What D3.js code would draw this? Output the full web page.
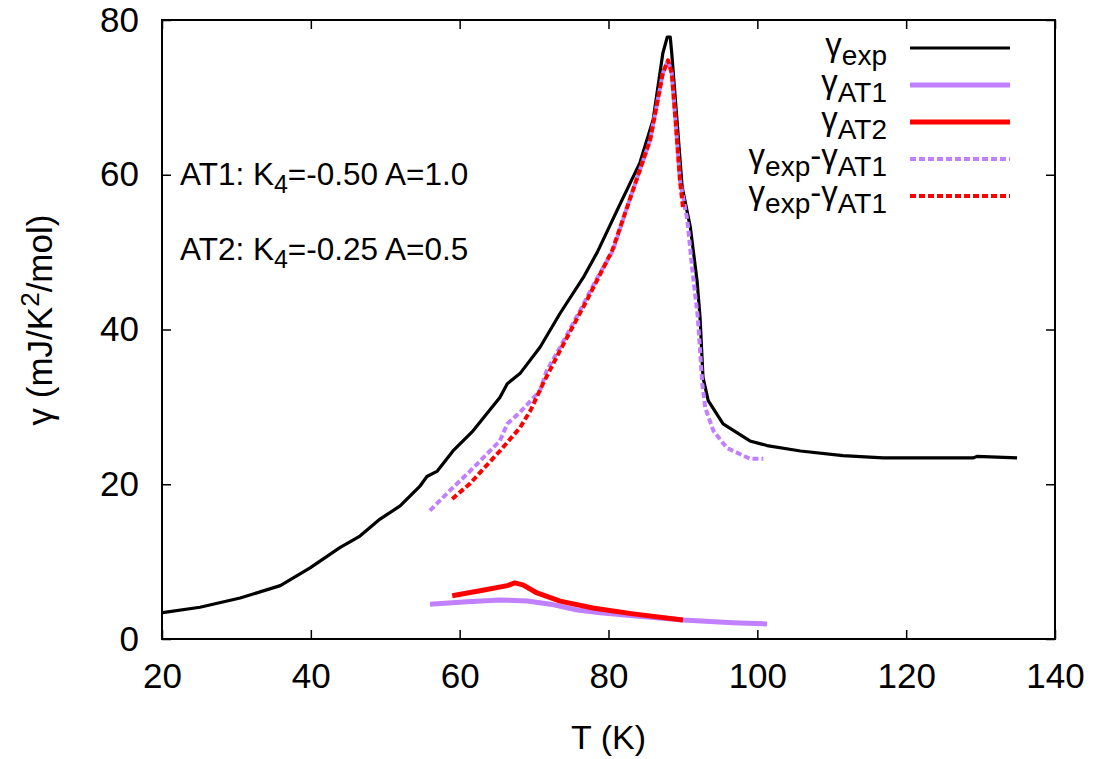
<!DOCTYPE html>
<html>
<head>
<meta charset="utf-8">
<script src="https://cdn.jsdelivr.net/npm/d3@7"></script>
<style>
  body { margin: 0; background: #fff; }
  text { font-family: "Liberation Sans", Arial, sans-serif; fill: #000; }
</style>
</head>
<body>
<svg id="chart" width="1097" height="759"></svg>
<script>
// gamma_exp (measured) : [T, gamma]
const gammaExp = [
  [20.1, 3.4], [25.1, 4.1], [30.5, 5.3], [35.9, 6.9], [39.9, 9.2], [43.9, 11.8],
  [46.6, 13.3], [49.3, 15.5], [52.0, 17.2], [54.7, 19.8], [55.6, 21.0], [57.0, 21.7],
  [59.1, 24.3], [61.8, 26.9], [65.4, 31.2], [66.4, 33.0], [68.1, 34.3], [70.8, 37.7],
  [73.5, 42.1], [76.6, 46.7], [78.5, 50.0], [81.6, 56.3], [84.2, 61.5], [86.0, 67.1],
  [87.3, 75.7], [87.9, 77.8], [88.3, 77.8], [88.5, 75.7], [89.2, 67.1], [89.9, 58.4],
  [91.0, 53.2], [91.9, 46.3], [92.3, 41.6], [92.7, 33.8], [93.4, 30.8], [95.4, 27.8],
  [99.0, 25.6], [101.3, 25.0], [105.8, 24.3], [111.5, 23.7], [116.9, 23.4], [123.6, 23.4],
  [129.0, 23.4], [129.5, 23.6], [134.9, 23.4]
];
// gamma_AT1 model
const gammaAT1 = [
  [56.0, 4.5], [61.0, 4.8], [65.4, 5.05], [69.1, 4.9], [72.2, 4.5], [75.8, 3.75],
  [78.9, 3.4], [83.3, 3.0], [90.0, 2.45], [96.7, 2.1], [101.3, 1.95]
];
// gamma_AT2 model
const gammaAT2 = [
  [59.0, 5.6], [63.1, 6.3], [66.4, 6.9], [67.4, 7.25], [68.5, 7.0], [70.4, 5.95],
  [73.5, 4.9], [77.9, 4.0], [83.3, 3.25], [90.0, 2.45]
];
// gamma_exp - gamma_AT1
const diffAT1 = [
  [56.0, 16.6], [58.7, 19.2], [61.4, 21.7], [65.4, 25.6], [66.4, 27.8], [68.1, 29.3],
  [70.8, 32.1], [71.7, 34.7], [73.5, 37.7], [76.2, 42.5], [78.5, 46.7], [80.6, 50.2],
  [82.5, 55.8], [85.6, 64.5], [87.3, 73.1], [88.0, 74.8], [88.5, 73.1], [89.0, 67.1],
  [89.6, 59.3], [90.6, 54.1], [91.2, 48.3], [92.0, 41.6], [92.6, 33.0], [93.0, 29.9],
  [94.1, 26.9], [95.9, 24.7], [99.0, 23.3], [100.8, 23.3]
];
// gamma_exp - gamma_AT2
const diffAT2 = [
  [59.0, 18.1], [61.4, 20.1], [65.4, 24.3], [68.1, 27.3], [69.5, 29.5], [71.2, 33.0],
  [73.5, 37.3], [77.1, 43.8], [80.5, 50.2], [82.5, 55.8], [85.6, 64.5], [87.3, 73.1],
  [88.0, 74.8], [88.5, 73.1], [89.0, 67.1], [89.6, 59.3], [90.0, 55.8]
];

const xTicks = [20, 40, 60, 80, 100, 120, 140];
const yTicks = [0, 20, 40, 60, 80];

const series = [
  { label: ["γ", "exp"], data: gammaExp, color: "#000000", width: 3.2, dash: null },
  { label: ["γ", "AT1"], data: gammaAT1, color: "#c080ff", width: 5, dash: null },
  { label: ["γ", "AT2"], data: gammaAT2, color: "#ff0000", width: 5, dash: null },
  { label: ["γ", "exp", "-γ", "AT1"], data: diffAT1, color: "#c080ff", width: 4, dash: "6,3" },
  { label: ["γ", "exp", "-γ", "AT1"], data: diffAT2, color: "#ff0000", width: 4, dash: "6,3" }
];

const svg = d3.select("#chart");
const margin = { top: 20, right: 42, bottom: 120, left: 162 };
const W = 1097, H = 759;

const x = d3.scaleLinear().domain([20, 140]).range([margin.left, W - margin.right]);
const y = d3.scaleLinear().domain([0, 80]).range([H - margin.bottom, margin.top]);

const tickLen = 9;

// axes with inward ticks, mirrored on top / right
svg.append("g")
  .attr("transform", `translate(0,${y(0)})`)
  .call(d3.axisBottom(x).tickValues(xTicks).tickSizeInner(-tickLen).tickSizeOuter(0).tickPadding(17))
  .call(g => g.select(".domain").remove())
  .selectAll("text").style("font-size", "35px").attr("dy", "0.9em");

svg.append("g")
  .attr("transform", `translate(0,${y(80)})`)
  .call(d3.axisTop(x).tickValues(xTicks).tickSizeInner(-tickLen).tickSizeOuter(0).tickFormat(""))
  .call(g => g.select(".domain").remove());

svg.append("g")
  .attr("transform", `translate(${x(20)},0)`)
  .call(d3.axisLeft(y).tickValues(yTicks).tickSizeInner(-tickLen).tickSizeOuter(0).tickPadding(23))
  .call(g => g.select(".domain").remove())
  .selectAll("text").style("font-size", "35px");

svg.append("g")
  .attr("transform", `translate(${x(140)},0)`)
  .call(d3.axisRight(y).tickValues(yTicks).tickSizeInner(-tickLen).tickSizeOuter(0).tickFormat(""))
  .call(g => g.select(".domain").remove());

svg.selectAll(".tick line").attr("stroke", "#000").attr("stroke-width", 1.5);

svg.append("rect")
  .attr("x", x(20)).attr("y", y(80))
  .attr("width", x(140) - x(20)).attr("height", y(0) - y(80))
  .attr("fill", "none").attr("stroke", "#000").attr("stroke-width", 2);

// curves
const line = d3.line().x(d => x(d[0])).y(d => y(d[1]));
series.forEach(s => {
  svg.append("path")
    .datum(s.data)
    .attr("d", line)
    .attr("fill", "none")
    .attr("stroke", s.color)
    .attr("stroke-width", s.width)
    .attr("stroke-linejoin", "round")
    .attr("stroke-dasharray", s.dash);
});

// legend
const legX = 887, legY0 = 48, legStep = 37;
series.forEach((s, i) => {
  const ly = legY0 + i * legStep;
  const t = svg.append("text")
    .attr("x", legX).attr("y", ly + 8)
    .attr("text-anchor", "end")
    .style("font-size", "33px");
  s.label.forEach((part, j) => {
    const sub = j % 2 === 1;
    t.append("tspan")
      .text(part)
      .style("font-size", sub ? "28px" : "33px")
      .attr("dy", j === 0 ? 0 : (sub ? 9 : -9));
  });
  svg.append("line")
    .attr("x1", 910).attr("x2", 1010)
    .attr("y1", ly).attr("y2", ly)
    .attr("stroke", s.color)
    .attr("stroke-width", s.width)
    .attr("stroke-dasharray", s.dash);
});

// annotations
const notes = [
  { y: 185, parts: ["AT1: K", "4", "=-0.50 A=1.0"] },
  { y: 260, parts: ["AT2: K", "4", "=-0.25 A=0.5"] }
];
notes.forEach(n => {
  const t = svg.append("text").attr("x", 180).attr("y", n.y).style("font-size", "31.5px");
  n.parts.forEach((p, j) => {
    t.append("tspan").text(p)
      .style("font-size", j === 1 ? "25px" : "31.5px")
      .attr("dy", j === 0 ? 0 : (j === 1 ? 8 : -8));
  });
});

// axis labels
svg.append("text")
  .attr("x", (x(20) + x(140)) / 2).attr("y", 749)
  .attr("text-anchor", "middle")
  .style("font-size", "34px")
  .text("T (K)");

const yl = svg.append("text")
  .attr("transform", `translate(52,320) rotate(-90)`)
  .attr("text-anchor", "middle")
  .style("font-size", "35px");
yl.append("tspan").text("γ (mJ/K");
yl.append("tspan").text("2").style("font-size", "26px").attr("dy", -13);
yl.append("tspan").text("/mol)").attr("dy", 13);
</script>
</body>
</html>
